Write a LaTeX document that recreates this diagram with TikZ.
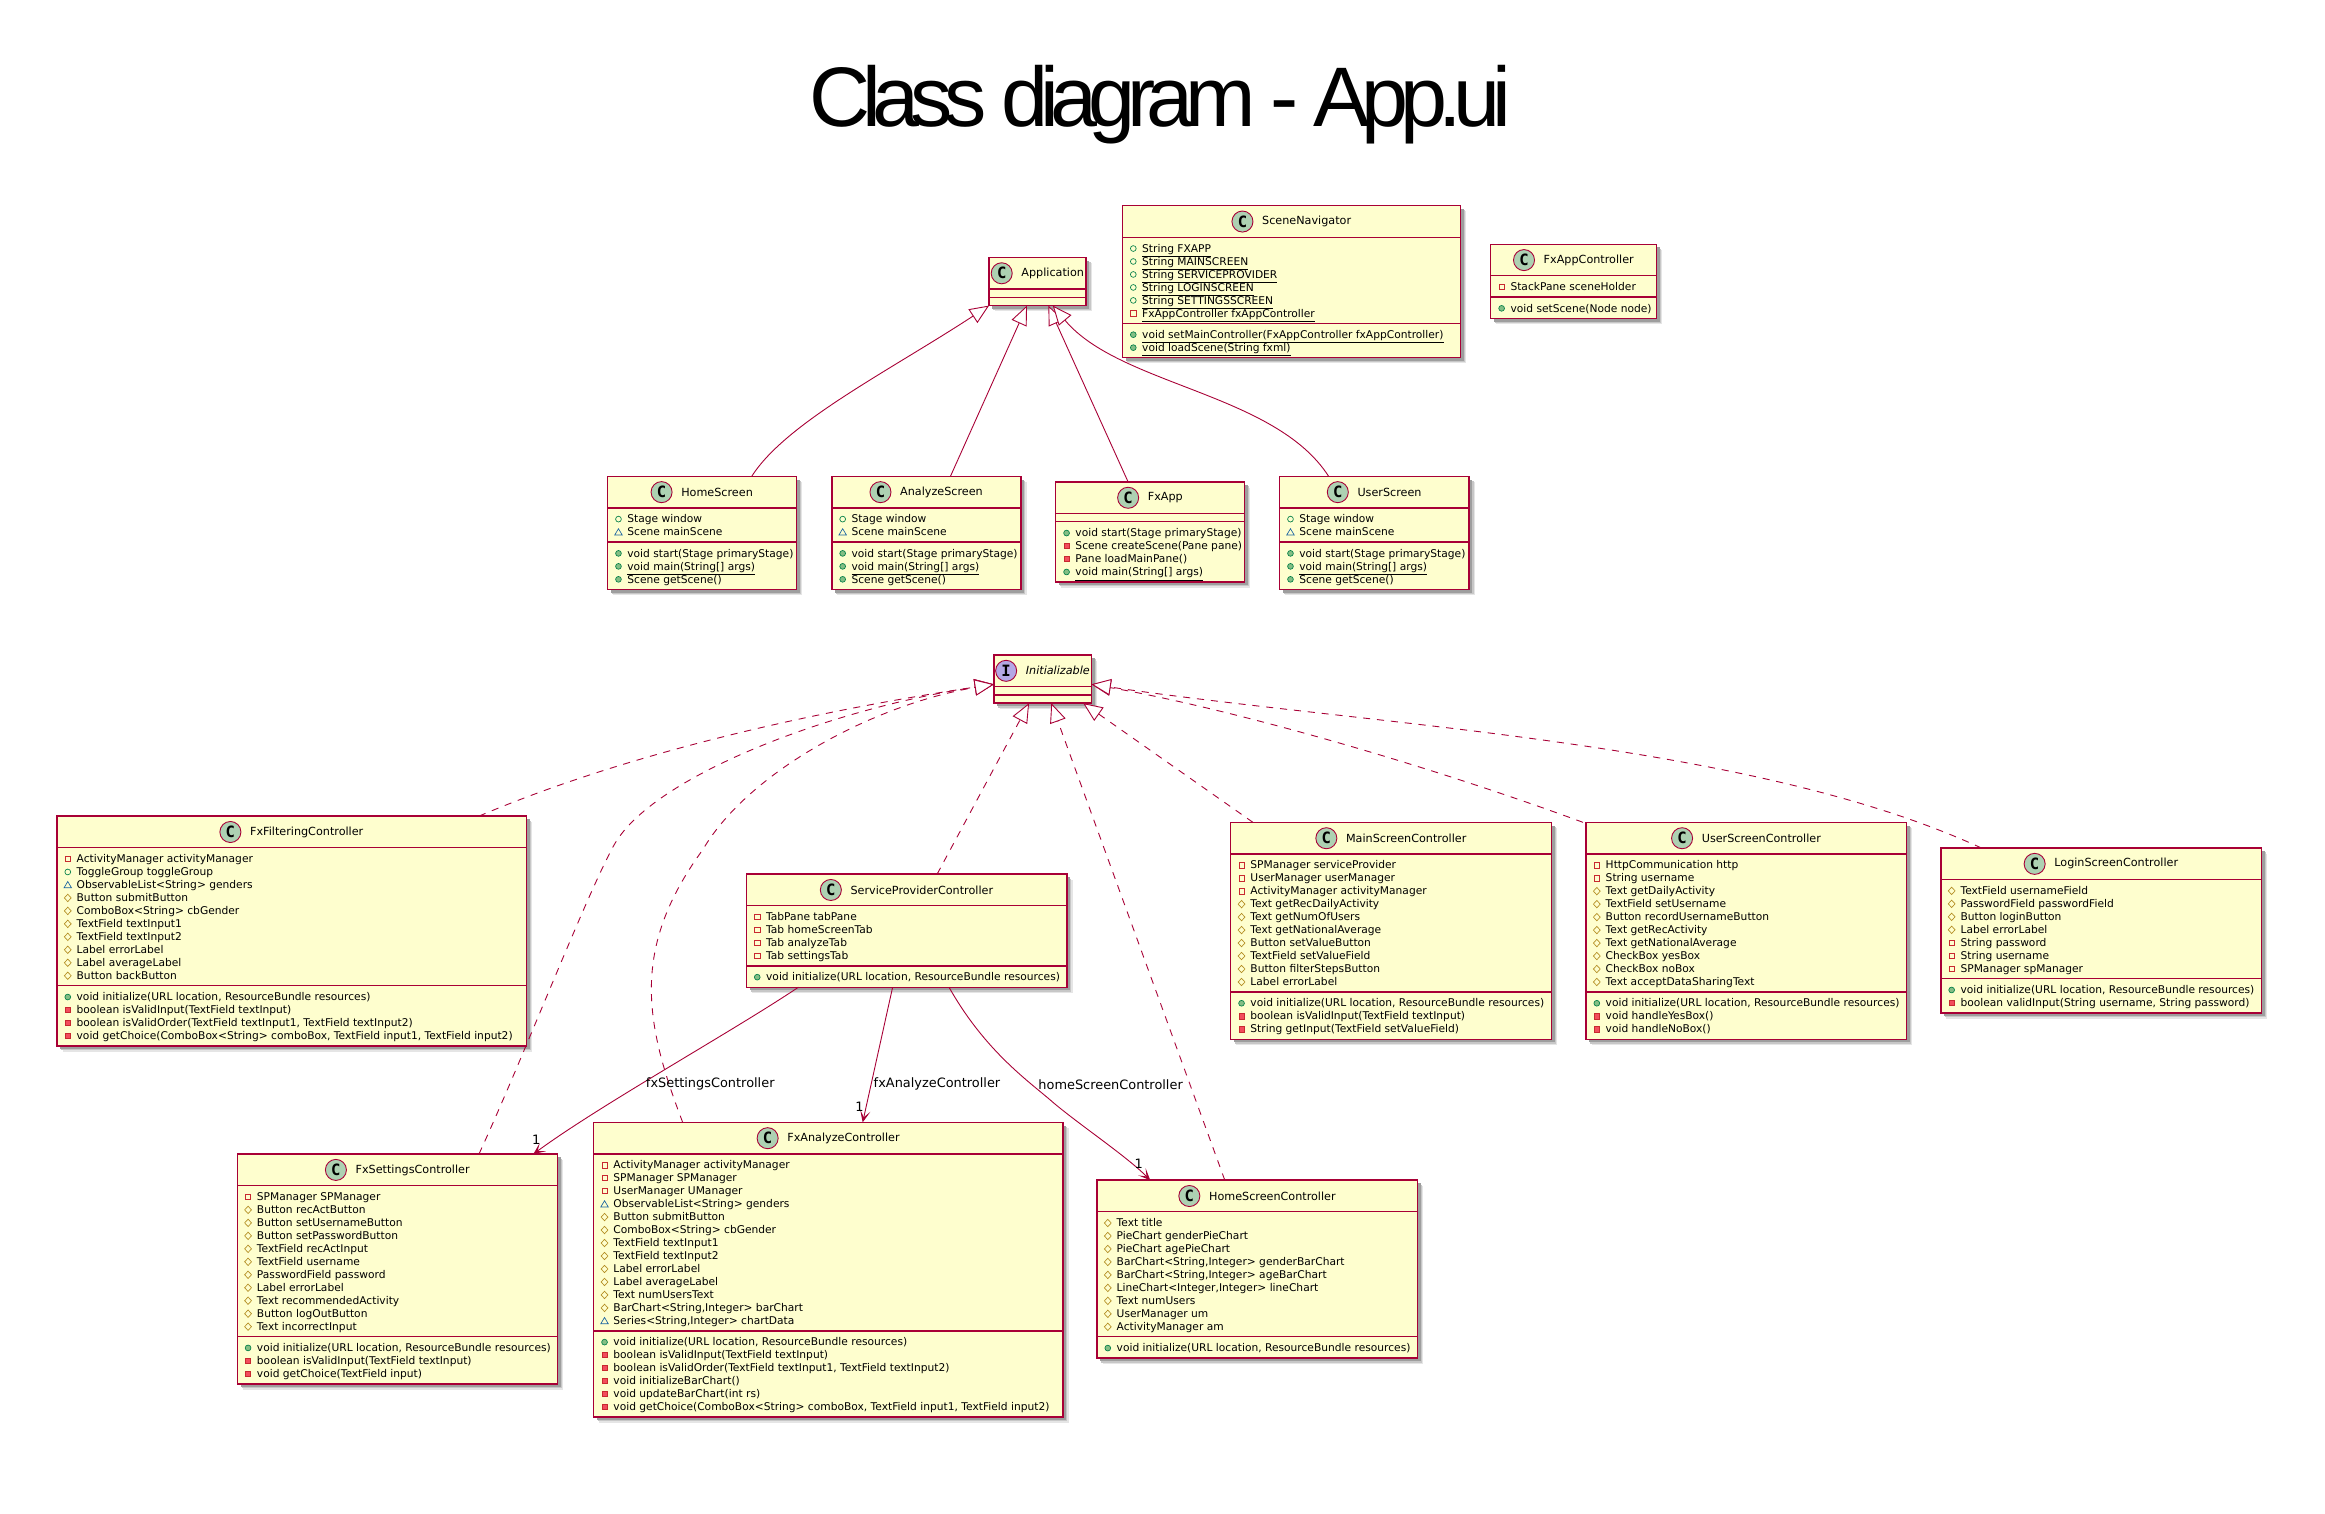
\documentclass[tikz,border=0pt]{standalone}
\usepackage{fontspec}
\usetikzlibrary{arrows.meta,calc}
\setmainfont{DejaVu Sans}
\newfontfamily\titlefamily[LetterSpace=-10.1]{Liberation Sans}
\newfontfamily\spotfamily{DejaVu Sans Mono}
\definecolor{umlline}{HTML}{A80036}
\definecolor{umlfill}{HTML}{FEFECE}
\definecolor{spotc}{HTML}{ADD1B2}
\definecolor{spoti}{HTML}{B4A7E5}
\definecolor{pubc}{HTML}{038048}
\definecolor{pubf}{HTML}{84BE84}
\definecolor{pric}{HTML}{C82930}
\definecolor{prif}{HTML}{F24D5C}
\definecolor{proc}{HTML}{B38D22}
\definecolor{pkgc}{HTML}{1963A0}
\newcommand\memfont{\fontsize{7.2}{8.5}\selectfont}
\newcommand\headfont{\fontsize{7.55}{9}\selectfont}
\tikzset{
  classbox/.style={draw=umlline,fill=umlfill,line width=0.9pt,inner sep=0pt,outer sep=0pt},
  secline/.style={draw=umlline,line width=0.9pt},
  member/.style={anchor=base west,inner sep=0pt,outer sep=0pt,font=\memfont,text=black},
  headtext/.style={inner sep=0pt,outer sep=0pt,font=\headfont,text=black},
  spotnode/.style={circle,draw=umlline,line width=0.6pt,minimum size=14.2pt,inner sep=0pt,outer sep=0pt,text=black},
  conn/.style={draw=umlline,line width=0.6pt},
  inherit/.style={conn,-{Triangle[open,fill=white,length=13pt,width=11pt]}},
  realize/.style={inherit,dash pattern=on 4.8pt off 4.6pt},
  assoc/.style={conn,-{Stealth[length=8pt,width=7pt,inset=4.5pt]}},
  edgelabel/.style={inner sep=0pt,outer sep=0pt,font=\fontsize{8.7}{10}\selectfont,text=black},
  multiplicity/.style={inner sep=0pt,outer sep=0pt,font=\fontsize{8.7}{10}\selectfont,text=black},
}
\newcount\memcount
% #1 id, #2 left, #3 right, #4 top, #5 attrs, #6 methods, #7 spot colour, #8 spot letter, #9 title
\newcommand\umlclass[9]{%
  \pgfmathsetmacro\cw{#3-#2}%
  \pgfmathsetmacro\hy{#4+21.3}%
  \pgfmathsetmacro\sy{\hy+#5*8.75+5.6}%
  \pgfmathsetmacro\by{\sy+#6*8.75+5.6}%
  \pgfmathsetmacro\ch{\by-#4}%
  \fill[black!10] (#2+3.8,#4+3.8) rectangle (#3+3.8,\by+3.8);
  \fill[black!22] (#2+3.0,#4+3.0) rectangle (#3+3.0,\by+3.0);
  \fill[black!38] (#2+2.2,#4+2.2) rectangle (#3+2.2,\by+2.2);
  \node[classbox,anchor=north west,minimum width=\cw pt,minimum height=\ch pt] (#1) at (#2,#4) {};
  \draw[secline] (#2,\hy) -- (#3,\hy);
  \draw[secline] (#2,\sy) -- (#3,\sy);
  \pgfmathsetmacro\tx{(#2+#3)/2+10.2}%
  \pgfmathsetmacro\ty{#4+10.7}%
  \node[headtext] (#1-title) at (\tx,\ty) {#9};
  \path let \p1=(#1-title.west) in node[spotnode,fill=#7,anchor=east] (#1-spot) at (\x1-6.2pt,\ty) {\spotfamily\bfseries\fontsize{10.5}{11}\selectfont #8};
  \xdef\curl{#2}%
  \pgfmathsetmacro\cy{\hy+7.6}\xdef\cury{\cy}%
  \pgfmathsetmacro\cm{\sy+7.6}\xdef\curm{\cm}%
}
\newcommand\iconpubA[2]{\draw[pubc,line width=0.45pt] (#1,#2) circle (1.95pt);}
\newcommand\iconpubM[2]{\draw[pubc,fill=pubf,line width=0.45pt] (#1,#2) circle (1.95pt);}
\newcommand\iconpriA[2]{\draw[pric,line width=0.45pt] (#1-1.8,#2-1.8) rectangle (#1+1.8,#2+1.8);}
\newcommand\iconpriM[2]{\draw[pric,fill=prif,line width=0.45pt] (#1-1.8,#2-1.8) rectangle (#1+1.8,#2+1.8);}
\newcommand\iconproA[2]{\draw[proc,line width=0.45pt] (#1-2.3,#2) -- (#1,#2-2.5) -- (#1+2.3,#2) -- (#1,#2+2.5) -- cycle;}
\newcommand\iconpkgA[2]{\draw[pkgc,line width=0.45pt] (#1-2.5,#2+1.9) -- (#1,#2-2.3) -- (#1+2.5,#2+1.9) -- cycle;}
\newcommand\attr[2]{%
  \global\advance\memcount by 1
  \pgfmathsetmacro\ix{\curl+7.3}\pgfmathsetmacro\tx{\curl+13.3}\pgfmathsetmacro\bl{\cury+2.5}%
  \csname icon#1\endcsname{\ix}{\cury}%
  \node[member] (mem\the\memcount) at (\tx,\bl) {#2};
  \pgfmathsetmacro\nn{\cury+8.75}\xdef\cury{\nn}%
}
\newcommand\meth[2]{%
  \global\advance\memcount by 1
  \pgfmathsetmacro\ix{\curl+7.3}\pgfmathsetmacro\tx{\curl+13.3}\pgfmathsetmacro\bl{\curm+2.5}%
  \csname icon#1\endcsname{\ix}{\curm}%
  \node[member] (mem\the\memcount) at (\tx,\bl) {#2};
  \pgfmathsetmacro\nn{\curm+8.75}\xdef\curm{\nn}%
}
\begin{document}
\begin{tikzpicture}[x=1pt,y=-1pt]
\useasboundingbox (0,0) rectangle (1568,1020.4);
\fill[white] (0,0) rectangle (1568,1020.4);
\node[anchor=base,inner sep=0pt,text=black] (title) at (782.5,85) {\titlefamily\fontsize{57}{60}\selectfont Class diagram - App.ui};

\umlclass{app}{667}{732.5}{173.6}{0}{0}{spotc}{C}{Application}

\umlclass{nav}{757}{985}{138.7}{6}{2}{spotc}{C}{SceneNavigator}
\attr{pubA}{\underline{String FXAPP}}
\attr{pubA}{\underline{String MAINSCREEN}}
\attr{pubA}{\underline{String SERVICEPROVIDER}}
\attr{pubA}{\underline{String LOGINSCREEN}}
\attr{pubA}{\underline{String SETTINGSSCREEN}}
\attr{priA}{\underline{FxAppController fxAppController}}
\meth{pubM}{\underline{void setMainController(FxAppController fxAppController)}}
\meth{pubM}{\underline{void loadScene(String fxml)}}

\umlclass{fxctl}{1005.4}{1117.1}{164.7}{1}{1}{spotc}{C}{FxAppController}
\attr{priA}{StackPane sceneHolder}
\meth{pubM}{void setScene(Node node)}

\umlclass{homeS}{409.8}{537}{321.2}{2}{3}{spotc}{C}{HomeScreen}
\attr{pubA}{Stage window}
\attr{pkgA}{Scene mainScene}
\meth{pubM}{void start(Stage primaryStage)}
\meth{pubM}{\underline{void main(String[] args)}}
\meth{pubM}{Scene getScene()}

\umlclass{anaS}{561}{688.5}{321.2}{2}{3}{spotc}{C}{AnalyzeScreen}
\attr{pubA}{Stage window}
\attr{pkgA}{Scene mainScene}
\meth{pubM}{void start(Stage primaryStage)}
\meth{pubM}{\underline{void main(String[] args)}}
\meth{pubM}{Scene getScene()}

\umlclass{fxapp}{712}{839.4}{325}{0}{4}{spotc}{C}{FxApp}
\meth{pubM}{void start(Stage primaryStage)}
\meth{priM}{Scene createScene(Pane pane)}
\meth{priM}{Pane loadMainPane()}
\meth{pubM}{\underline{void main(String[] args)}}

\umlclass{userS}{863}{990.8}{321.2}{2}{3}{spotc}{C}{UserScreen}
\attr{pubA}{Stage window}
\attr{pkgA}{Scene mainScene}
\meth{pubM}{void start(Stage primaryStage)}
\meth{pubM}{\underline{void main(String[] args)}}
\meth{pubM}{Scene getScene()}

\umlclass{init}{670.3}{736.1}{441.7}{0}{0}{spoti}{I}{\itshape Initializable}

\umlclass{filter}{38.4}{354.9}{550.4}{10}{4}{spotc}{C}{FxFilteringController}
\attr{priA}{ActivityManager activityManager}
\attr{pubA}{ToggleGroup toggleGroup}
\attr{pkgA}{ObservableList<String> genders}
\attr{proA}{Button submitButton}
\attr{proA}{ComboBox<String> cbGender}
\attr{proA}{TextField textInput1}
\attr{proA}{TextField textInput2}
\attr{proA}{Label errorLabel}
\attr{proA}{Label averageLabel}
\attr{proA}{Button backButton}
\meth{pubM}{void initialize(URL location, ResourceBundle resources)}
\meth{priM}{boolean isValidInput(TextField textInput)}
\meth{priM}{boolean isValidOrder(TextField textInput1, TextField textInput2)}
\meth{priM}{void getChoice(ComboBox<String> comboBox, TextField input1, TextField input2)}

\umlclass{service}{503.4}{719.6}{589.5}{4}{1}{spotc}{C}{ServiceProviderController}
\attr{priA}{TabPane tabPane}
\attr{priA}{Tab homeScreenTab}
\attr{priA}{Tab analyzeTab}
\attr{priA}{Tab settingsTab}
\meth{pubM}{void initialize(URL location, ResourceBundle resources)}

\umlclass{main}{830}{1046.3}{554.6}{10}{3}{spotc}{C}{MainScreenController}
\attr{priA}{SPManager serviceProvider}
\attr{priA}{UserManager userManager}
\attr{priA}{ActivityManager activityManager}
\attr{proA}{Text getRecDailyActivity}
\attr{proA}{Text getNumOfUsers}
\attr{proA}{Text getNationalAverage}
\attr{proA}{Button setValueButton}
\attr{proA}{TextField setValueField}
\attr{proA}{Button filterStepsButton}
\attr{proA}{Label errorLabel}
\meth{pubM}{void initialize(URL location, ResourceBundle resources)}
\meth{priM}{boolean isValidInput(TextField textInput)}
\meth{priM}{String getInput(TextField setValueField)}

\umlclass{userC}{1069.6}{1285.7}{554.6}{10}{3}{spotc}{C}{UserScreenController}
\attr{priA}{HttpCommunication http}
\attr{priA}{String username}
\attr{proA}{Text getDailyActivity}
\attr{proA}{TextField setUsername}
\attr{proA}{Button recordUsernameButton}
\attr{proA}{Text getRecActivity}
\attr{proA}{Text getNationalAverage}
\attr{proA}{CheckBox yesBox}
\attr{proA}{CheckBox noBox}
\attr{proA}{Text acceptDataSharingText}
\meth{pubM}{void initialize(URL location, ResourceBundle resources)}
\meth{priM}{void handleYesBox()}
\meth{priM}{void handleNoBox()}

\umlclass{login}{1308.9}{1525.1}{571.9}{7}{2}{spotc}{C}{LoginScreenController}
\attr{proA}{TextField usernameField}
\attr{proA}{PasswordField passwordField}
\attr{proA}{Button loginButton}
\attr{proA}{Label errorLabel}
\attr{priA}{String password}
\attr{priA}{String username}
\attr{priA}{SPManager spManager}
\meth{pubM}{void initialize(URL location, ResourceBundle resources)}
\meth{priM}{boolean validInput(String username, String password)}

\umlclass{settings}{160}{376.2}{778.3}{11}{3}{spotc}{C}{FxSettingsController}
\attr{priA}{SPManager SPManager}
\attr{proA}{Button recActButton}
\attr{proA}{Button setUsernameButton}
\attr{proA}{Button setPasswordButton}
\attr{proA}{TextField recActInput}
\attr{proA}{TextField username}
\attr{proA}{PasswordField password}
\attr{proA}{Label errorLabel}
\attr{proA}{Text recommendedActivity}
\attr{proA}{Button logOutButton}
\attr{proA}{Text incorrectInput}
\meth{pubM}{void initialize(URL location, ResourceBundle resources)}
\meth{priM}{boolean isValidInput(TextField textInput)}
\meth{priM}{void getChoice(TextField input)}

\umlclass{analyze}{400.4}{716.9}{756.9}{13}{6}{spotc}{C}{FxAnalyzeController}
\attr{priA}{ActivityManager activityManager}
\attr{priA}{SPManager SPManager}
\attr{priA}{UserManager UManager}
\attr{pkgA}{ObservableList<String> genders}
\attr{proA}{Button submitButton}
\attr{proA}{ComboBox<String> cbGender}
\attr{proA}{TextField textInput1}
\attr{proA}{TextField textInput2}
\attr{proA}{Label errorLabel}
\attr{proA}{Label averageLabel}
\attr{proA}{Text numUsersText}
\attr{proA}{BarChart<String,Integer> barChart}
\attr{pkgA}{Series<String,Integer> chartData}
\meth{pubM}{void initialize(URL location, ResourceBundle resources)}
\meth{priM}{boolean isValidInput(TextField textInput)}
\meth{priM}{boolean isValidOrder(TextField textInput1, TextField textInput2)}
\meth{priM}{void initializeBarChart()}
\meth{priM}{void updateBarChart(int rs)}
\meth{priM}{void getChoice(ComboBox<String> comboBox, TextField input1, TextField input2)}

\umlclass{homeC}{739.8}{956}{795.9}{9}{1}{spotc}{C}{HomeScreenController}
\attr{proA}{Text title}
\attr{proA}{PieChart genderPieChart}
\attr{proA}{PieChart agePieChart}
\attr{proA}{BarChart<String,Integer> genderBarChart}
\attr{proA}{BarChart<String,Integer> ageBarChart}
\attr{proA}{LineChart<Integer,Integer> lineChart}
\attr{proA}{Text numUsers}
\attr{proA}{UserManager um}
\attr{proA}{ActivityManager am}
\meth{pubM}{void initialize(URL location, ResourceBundle resources)}

% generalisations to Application
\draw[inherit] ([xshift=97.2pt]homeS.north west) .. controls (530,285) and (600,250) .. (app.south west);
\draw[inherit] ([xshift=80pt]anaS.north west) -- ([xshift=25.6pt]app.south west);
\draw[inherit] ([xshift=48.8pt]fxapp.north west) -- ([xshift=40pt]app.south west);
\draw[inherit] ([xshift=33pt]userS.north west) .. controls (860,265) and (755,260) .. ([xshift=43pt]app.south west);

% realisations of Initializable
\coordinate (initL) at ([yshift=-19.8pt]init.north west);
\coordinate (initR) at ([yshift=-19.8pt]init.north east);
\draw[realize] ([xshift=284.6pt]filter.north west) .. controls (430,505) and (560,478) .. (initL);
\draw[realize] ([xshift=163pt]settings.north west) .. controls (350,720) and (395,605) .. (412.5,573) .. controls (435,525) and (560,478) .. (initL);
\draw[realize] ([xshift=60pt]analyze.north west) .. controls (435,690) and (425,640) .. (474,573) .. controls (505,520) and (590,475) .. (initL);
\draw[realize] ([xshift=128.6pt]service.north west) -- ([xshift=23.7pt]init.south west);
\draw[realize] ([xshift=86.2pt]homeC.north west) -- ([xshift=38.7pt]init.south west);
\draw[realize] ([xshift=15pt]main.north west) -- ([xshift=60.2pt]init.south west);
\draw[realize] ([xshift=-2pt]userC.north west) .. controls (960,515) and (830,478) .. (initR);
\draw[realize] ([xshift=27.4pt]login.north west) .. controls (1180,500) and (930,490) .. (initR);

% associations
\draw[assoc] ([xshift=35.1pt]service.south west) .. controls (495,695) and (405,745) .. ([xshift=199.7pt]settings.north west);
\draw[assoc] ([xshift=98.6pt]service.south west) -- ([xshift=181.4pt]analyze.north west);
\draw[assoc] ([xshift=136.6pt]service.south west) .. controls (665,710) and (695,730) .. (710.8,744) .. controls (730,760) and (760,780) .. ([xshift=35.9pt]homeC.north west);

\node[edgelabel] (lab1) at (479,731.3) {fxSettingsController};
\node[edgelabel] (lab2) at (631.9,731.3) {fxAnalyzeController};
\node[edgelabel] (lab3) at (749,731.3) {homeScreenController};
\node[multiplicity] (m1) at (361.6,768.5) {1};
\node[multiplicity] (m2) at (579.6,746.2) {1};
\node[multiplicity] (m3) at (768,785) {1};
\end{tikzpicture}
\end{document}
